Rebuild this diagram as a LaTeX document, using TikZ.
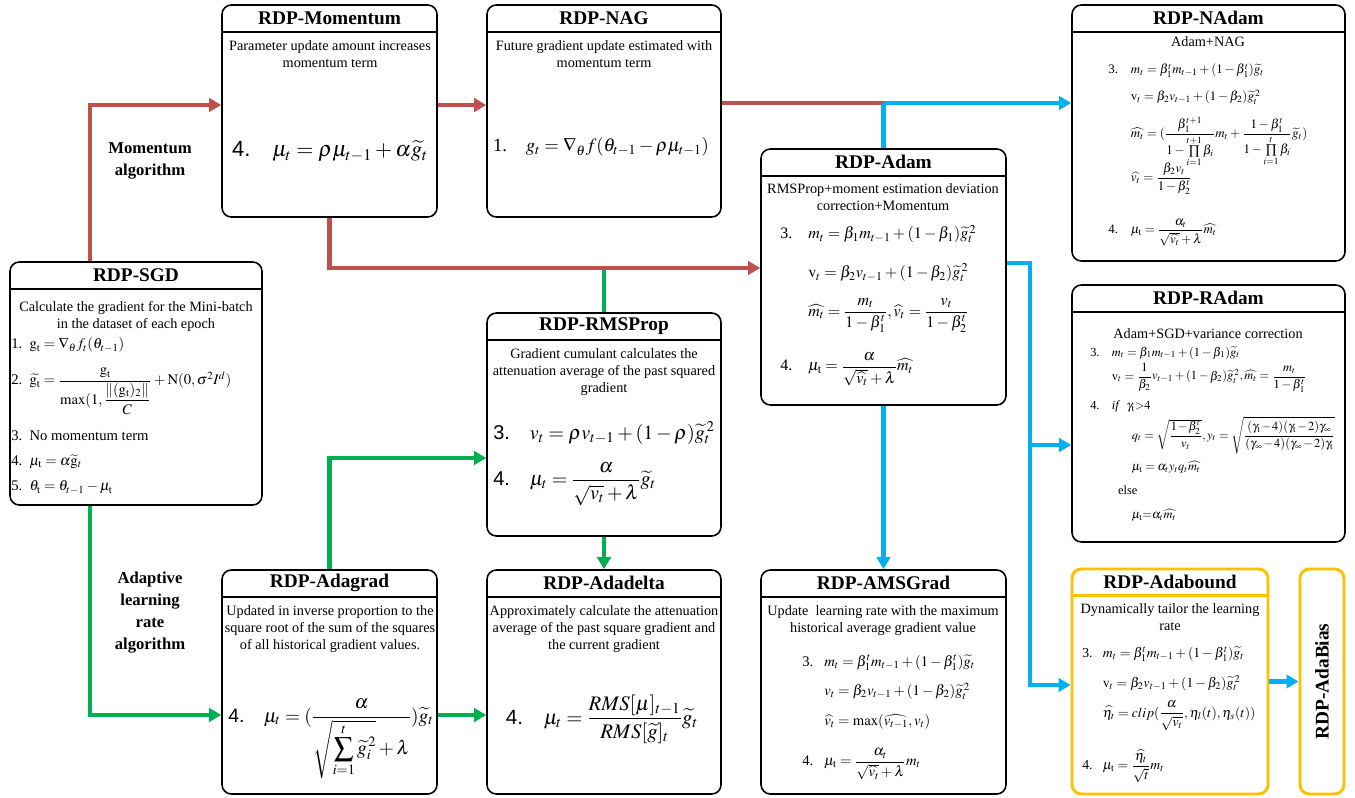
\documentclass[tikz,border=0pt]{standalone}
\usepackage{amsmath}
\usepackage{mathptmx}
\usepackage{fontspec}
\setmainfont{Liberation Serif}
\setsansfont{Liberation Sans}
\usetikzlibrary{positioning, arrows.meta, fit, calc}

\definecolor{momred}{RGB}{192,80,77}
\definecolor{adagreen}{RGB}{0,176,80}
\definecolor{adamblue}{RGB}{0,176,240}
\definecolor{boundorange}{RGB}{255,192,0}

\begin{document}
\begin{tikzpicture}[
  x=0.75pt, y=-0.75pt, % one unit = one pixel of the sketch, y runs down
  >={Triangle[length=9pt, width=10pt]},
  algbox/.style={draw, rounded corners=7pt, line width=1.2pt, inner sep=0pt},
  boundbox/.style={algbox, draw=boundorange, line width=2.2pt},
  boxtitle/.style={font=\bfseries\fontsize{14.5}{16}\selectfont},
  boxtext/.style={font=\fontsize{10.7}{13}\selectfont, align=center, anchor=north, inner sep=0pt},
  eqlines/.style={font=\fontsize{11}{13.5}\selectfont, anchor=base west, inner sep=0pt},
  bigeq/.style={font=\fontsize{16.5}{20}\selectfont, anchor=base, inner sep=0pt},
  pathlabel/.style={font=\bfseries\fontsize{12.5}{16.5}\selectfont, align=center},
  line/.style={line width=3.3pt},
  arrow/.style={line, ->}
]

\useasboundingbox (0,0) rectangle (1355,798);

% Algorithm boxes
\node[algbox, fit={(10,262)(262,505)}] (sgd) {};
\node[algbox, fit={(222,5)(437,217)}] (mom) {};
\node[algbox, fit={(487,5)(721,217)}] (nag) {};
\node[algbox, fit={(761,149)(1006,405)}] (adam) {};
\node[algbox, fit={(1072,5)(1345,261)}] (nadam) {};
\node[algbox, fit={(1072,285)(1345,542)}] (radam) {};
\node[algbox, fit={(487,313)(721,536)}] (rms) {};
\node[algbox, fit={(222,570)(437,794)}] (adagrad) {};
\node[algbox, fit={(487,570)(721,794)}] (adadelta) {};
\node[algbox, fit={(761,570)(1006,794)}] (ams) {};
\node[boundbox, fit={(1072,569)(1268,794)}] (bound) {};
\node[boundbox, fit={(1300,569)(1344,794)}] (bias) {};

% Titles and title rules
\foreach \b/\t in {sgd/RDP-SGD, mom/RDP-Momentum, nag/RDP-NAG, adam/RDP-Adam,
  nadam/RDP-NAdam, radam/RDP-RAdam, rms/RDP-RMSProp, adagrad/RDP-Adagrad,
  adadelta/RDP-Adadelta, ams/RDP-AMSGrad} {
  \node[boxtitle] (\b-title) at ([yshift=-10.5pt]\b.north) {\t};
  \draw[line width=1.2pt] ([yshift=-21pt]\b.north west) -- ([yshift=-21pt]\b.north east);
}
\node[boxtitle] (bound-title) at ([yshift=-10.5pt]bound.north) {RDP-Adabound};
\draw[line width=2.2pt, boundorange] ([yshift=-21pt]bound.north west) -- ([yshift=-21pt]bound.north east);
\node[boxtitle, rotate=90] (bias-title) at (bias) {RDP-AdaBias};

% Short descriptions
\node[boxtext] (sgd-text) at (136,301) {Calculate the gradient for the Mini-batch\\in the dataset of each epoch};
\node[boxtext] (mom-text) at (330,40) {Parameter update amount increases\\momentum term};
\node[boxtext] (nag-text) at (604,40) {Future gradient update estimated with\\momentum term};
\node[boxtext] (adam-text) at (883,183) {RMSProp+moment estimation deviation\\correction+Momentum};
\node[boxtext] (nadam-text) at (1208,36) {Adam+NAG};
\node[boxtext] (radam-text) at (1208,328) {Adam+SGD+variance correction};
\node[boxtext] (rms-text) at (604,348) {Gradient cumulant calculates the\\attenuation average of the past squared\\gradient};
\node[boxtext] (adagrad-text) at (330,605) {Updated in inverse proportion to the\\square root of the sum of the squares\\of all historical gradient values.};
\node[boxtext] (adadelta-text) at (604,605) {Approximately calculate the attenuation\\average of the past square gradient and\\the current gradient};
\node[boxtext] (ams-text) at (883,605) {Update\ \ learning rate with the maximum\\historical average gradient value};
\node[boxtext] (bound-text) at (1170,603) {Dynamically tailor the learning\\rate};

% Update rules
\node[eqlines] (sgd-eq) at (11,349) {\renewcommand{\arraystretch}{1.4}%
  \begin{tabular}[t]{@{}l@{\ \ }l@{}}
  1. & $\mathrm{g_t} = \nabla_{\theta} f_t(\theta_{t-1})$\\[8pt]
  2. & $\widetilde{\mathrm{g_t}} = \dfrac{\mathrm{g_t}}{\max(1,\dfrac{\|(\mathrm{g_t})_2\|}{C}} + \mathrm{N}(0,\sigma^2 I^d)$\\
  3. & \rule{0pt}{19.5pt}No momentum term\\
  4. & $\mu_{\mathrm t} = \alpha\widetilde{\mathrm{g}}_t$\\
  5. & $\theta_{\mathrm t} = \theta_{t-1} - \mu_{\mathrm t}$
  \end{tabular}};
\node[bigeq] (mom-eq) at (330,157) {\textsf{4.}\quad$\mu_t = \rho\mu_{t-1} + \alpha\widetilde{g}_t$};
\node[bigeq, font=\fontsize{14}{17}\selectfont] (nag-eq) at (601,152) {1.\quad$g_t = \nabla_\theta f(\theta_{t-1} - \rho\mu_{t-1})$};
\node[eqlines, font=\fontsize{12}{14.5}\selectfont] (adam-eq) at (780,239) {\renewcommand{\arraystretch}{2}%
  \begin{tabular}[t]{@{}l@{\quad}l@{}}
  3. & $m_t = \beta_1 m_{t-1} + (1-\beta_1)\widetilde{g}_t^{\,2}$\\
     & $\mathrm{v}_t = \beta_2 v_{t-1} + (1-\beta_2)\widetilde{g}_t^{\,2}$\\
     & $\widehat{m_t} = \dfrac{m_t}{1-\beta_1^t}, \widehat{v_t} = \dfrac{v_t}{1-\beta_2^t}$\\[12pt]
  4. & $\mu_{\mathrm t} = \dfrac{\alpha}{\sqrt{\widehat{v_t}}+\lambda}\widehat{m_t}$
  \end{tabular}};
\node[eqlines, font=\fontsize{9.7}{12}\selectfont] (nadam-eq) at (1108,74) {\renewcommand{\arraystretch}{1.6}%
  \begin{tabular}[t]{@{}l@{\quad}l@{}}
  3. & $m_t = \beta_1^t m_{t-1} + (1-\beta_1^t)\widetilde{g}_t$\\[1pt]
     & $\mathrm{v}_t = \beta_2 v_{t-1} + (1-\beta_2)\widetilde{g}_t^{\,2}$\\[6pt]
     & $\widehat{m_t} = (\dfrac{\beta_1^{t+1}}{1-\prod\limits_{i=1}^{t+1}\beta_i}m_t + \dfrac{1-\beta_1^t}{1-\prod\limits_{i=1}^{t}\beta_i}\widetilde{g}_t)$\\[-3pt]
     & $\widehat{v_t} = \dfrac{\beta_2 v_t}{1-\beta_2^t}$\\[20pt]
  4. & $\mu_{\mathrm t} = \dfrac{\alpha_t}{\sqrt{\widehat{v_t}}+\lambda}\widehat{m_t}$
  \end{tabular}};
\node[eqlines, font=\fontsize{9.3}{12}\selectfont] (radam-eq) at (1090,356) {\renewcommand{\arraystretch}{1.5}%
  \begin{tabular}[t]{@{}l@{\quad}l@{}}
  3. & $m_t = \beta_1 m_{t-1} + (1-\beta_1)\widetilde{g}_t$\\
     & $\mathrm{v}_t = \dfrac{1}{\beta_2}v_{t-1} + (1-\beta_2)\widetilde{g}_t^{\,2}, \widehat{m_t} = \dfrac{m_t}{1-\beta_1^t}$\\
  4. & \textit{if}\ \ $\gamma_{\mathrm t} {>} 4$\\
     & \hspace{1.6em}$\medmuskip=1.5mu q_t = \sqrt{\dfrac{1-\beta_2^t}{v_t}}, y_t = \sqrt{\dfrac{(\gamma_{\mathrm t}-4)(\gamma_{\mathrm t}-2)\gamma_\infty}{(\gamma_\infty-4)(\gamma_\infty-2)\gamma_{\mathrm t}}}$\\
     & \hspace{1.6em}$\mu_{\mathrm t} = \alpha_t y_t q_t\widehat{m_t}$\\
     & \hspace{0.5em}else\\
     & \hspace{1.6em}$\mu_{\mathrm t} {=} \alpha_t\widehat{m_t}$
  \end{tabular}};
\node[eqlines, font=\fontsize{15}{18}\selectfont] (rms-eq) at (493,439) {%
  \begin{tabular}[t]{@{}l@{\quad}l@{}}
  \textsf{3.} & $v_t = \rho v_{t-1} + (1-\rho)\widetilde{g}_t^{\,2}$\\[12pt]
  \textsf{4.} & $\mu_t = \dfrac{\alpha}{\sqrt{v_t}+\lambda}\widetilde{g}_t$
  \end{tabular}};
\node[bigeq, font=\fontsize{14.5}{18}\selectfont] (adagrad-eq) at (331,722) {\textsf{4.}\quad$\mu_t = (\dfrac{\alpha}{\sqrt{\displaystyle\sum_{i=1}^{t}\widetilde{g}_i^{\,2}}+\lambda})\widetilde{g}_t$};
\node[bigeq, font=\fontsize{15.5}{18}\selectfont] (adadelta-eq) at (602,724) {\textsf{4.}\quad$\mu_t = \dfrac{RMS[\mu]_{t-1}}{RMS[\widetilde{g}]_t}\widetilde{g}_t$};
\node[eqlines] (ams-eq) at (802,666) {\renewcommand{\arraystretch}{1.65}%
  \begin{tabular}[t]{@{}l@{\ \ \ }l@{}}
  3. & $m_t = \beta_1^t m_{t-1} + (1-\beta_1^t)\widetilde{g}_t$\\
     & $v_t = \beta_2 v_{t-1} + (1-\beta_2)\widetilde{g}_t^{\,2}$\\
     & $\widehat{v_t} = \max(\widehat{v_{t-1}}, v_t)$\\[8pt]
  4. & $\mu_{\mathrm t} = \dfrac{\alpha_t}{\sqrt{\widehat{v_t}}+\lambda}m_t$
  \end{tabular}};
\node[eqlines, font=\fontsize{10.3}{12.5}\selectfont] (bound-eq) at (1082,657) {\renewcommand{\arraystretch}{1.8}%
  \begin{tabular}[t]{@{}l@{\ \ \ }l@{}}
  3. & $m_t = \beta_1^t m_{t-1} + (1-\beta_1^t)\widetilde{g}_t$\\
     & $\mathrm{v}_t = \beta_2 v_{t-1} + (1-\beta_2)\widetilde{g}_t^{\,2}$\\
     & $\widehat{\eta_t} = clip(\dfrac{\alpha}{\sqrt{v_t}}, \eta_l(t), \eta_s(t))$\\[17pt]
  4. & $\mu_{\mathrm t} = \dfrac{\widehat{\eta_t}}{\sqrt{t}}m_t$
  \end{tabular}};

% Branch labels
\node[pathlabel] (mom-label) at (150,161) {Momentum\\algorithm};
\node[pathlabel] (ada-label) at (150,613) {Adaptive\\learning\\rate\\algorithm};

% Bend points
\coordinate (mombend) at (90,105);
\coordinate (adambend) at (330,268);
\coordinate (nadamjoin) at (883.5,103);
\coordinate (adabend) at (90,715);
\coordinate (rmsbend) at (330,458);
\coordinate (bluesplit) at (1030,263);
\coordinate (radamin) at (1030,445);
\coordinate (boundin) at (1030,685);

% Adaptive learning rate branch
\draw[line, adagreen] (rms.north |- adambend) -- (rms.north);
\draw[arrow, adagreen] (sgd.south -| adabend) |- (adagrad.west |- adabend);
\draw[arrow, adagreen] (adagrad.north) |- (rms.west |- rmsbend);
\draw[arrow, adagreen] (adagrad.east |- adabend) -- (adadelta.west |- adabend);
\draw[arrow, adagreen] (rms.south) -- (adadelta.north);

% Momentum branch
\draw[arrow, momred] (sgd.north -| mombend) |- (mom.west |- mombend);
\draw[arrow, momred] (mom.east |- mombend) -- (nag.west |- mombend);
\draw[line, momred] (nag.east |- nadamjoin) -- (nadamjoin);
\draw[arrow, momred] (mom.south) |- (adam.west |- adambend);

% Adam family
\draw[line, adamblue] (adam.north) -- (nadamjoin);
\draw[arrow, adamblue] (nadamjoin) -- (nadam.west |- nadamjoin);
\draw[arrow, adamblue] (adam.south) -- (ams.north);
\draw[arrow, adamblue] (adam.east |- bluesplit) -- (bluesplit) |- (bound.west |- boundin);
\draw[arrow, adamblue] (radamin) -- (radam.west |- radamin);
\draw[arrow, adamblue] (bound.east) -- (bias.west);

\end{tikzpicture}
\end{document}
